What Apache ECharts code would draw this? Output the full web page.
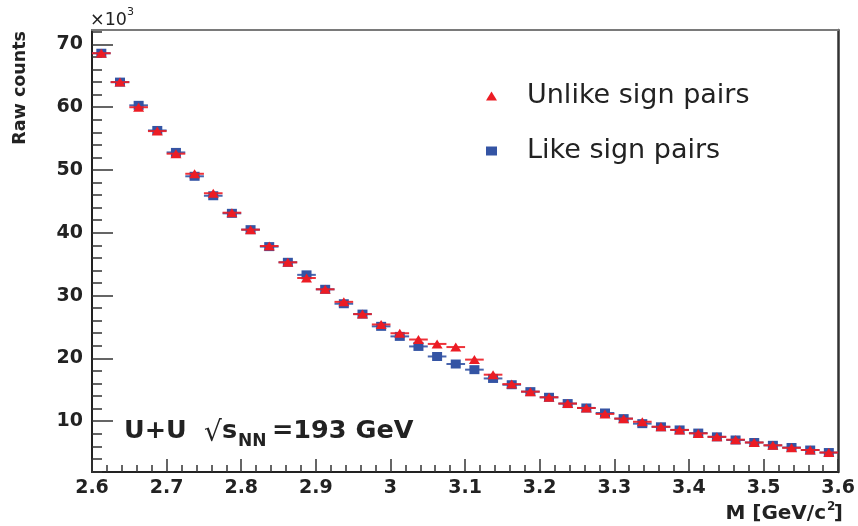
<!DOCTYPE html>
<html>
<head>
<meta charset="utf-8">
<title>Raw counts vs M</title>
<script src="https://cdn.jsdelivr.net/npm/echarts@6/dist/echarts.min.js"></script>
<style>
  html, body { margin: 0; padding: 0; background: #ffffff; }
  #chart { width: 858px; height: 526px; }
</style>
</head>
<body>
<div id="chart"></div>
<script>
// Invariant-mass bin centres [GeV/c^2], bin width 0.025
const massBins = [
  2.6125, 2.6375, 2.6625, 2.6875, 2.7125, 2.7375, 2.7625, 2.7875, 2.8125, 2.8375,
  2.8625, 2.8875, 2.9125, 2.9375, 2.9625, 2.9875, 3.0125, 3.0375, 3.0625, 3.0875,
  3.1125, 3.1375, 3.1625, 3.1875, 3.2125, 3.2375, 3.2625, 3.2875, 3.3125, 3.3375,
  3.3625, 3.3875, 3.4125, 3.4375, 3.4625, 3.4875, 3.5125, 3.5375, 3.5625, 3.5875
];
const binHalfWidth = 0.0125;

// Raw pair counts, in units of 10^3
const unlikeSign = [
  68.6, 64.0, 60.0, 56.2, 52.6, 49.4, 46.3, 43.2, 40.5, 37.9,
  35.3, 32.8, 31.0, 29.0, 27.05, 25.4, 24.0, 23.0, 22.3, 21.8,
  19.8, 17.4, 15.9, 14.7, 13.8, 12.8, 12.1, 11.15, 10.4, 9.9,
  9.1, 8.6, 8.05, 7.5, 7.05, 6.6, 6.15, 5.75, 5.4, 5.0
];
const likeSign = [
  68.6, 64.0, 60.3, 56.3, 52.8, 49.0, 45.9, 43.1, 40.5, 37.8,
  35.3, 33.3, 31.0, 28.7, 27.05, 25.1, 23.5, 21.9, 20.3, 19.1,
  18.2, 16.8, 15.8, 14.7, 13.8, 12.8, 12.1, 11.3, 10.4, 9.6,
  9.1, 8.6, 8.1, 7.5, 7.0, 6.6, 6.15, 5.8, 5.4, 5.0
];

// Axis ticks and labels
const yMajorTicks = [10, 20, 30, 40, 50, 60, 70];
const yMinorTicks = [2, 4, 6, 8, 12, 14, 16, 18, 22, 24, 26, 28, 32, 34, 36, 38,
                     42, 44, 46, 48, 52, 54, 56, 58, 62, 64, 66, 68, 72];
const yRange = [1.9, 72.3];
const xRange = [2.6, 3.6];

const RED = '#ec1c24';
const BLUE = '#3454a4';
const INK = '#222222';
const FONT = 'DejaVu Sans';

function points(values) {
  return massBins.map((m, i) => [m, values[i]]);
}

// horizontal bar spanning the full width of each mass bin
function binBars(color) {
  return function (params, api) {
    const x = api.value(0);
    const y = api.value(1);
    const p1 = api.coord([x - binHalfWidth, y]);
    const p2 = api.coord([x + binHalfWidth, y]);
    return {
      type: 'line',
      shape: { x1: p1[0], y1: p1[1], x2: p2[0], y2: p2[1] },
      style: { stroke: color, lineWidth: 2, opacity: 0.9 }
    };
  };
}

const chart = echarts.init(document.getElementById('chart'), null, { renderer: 'canvas' });

chart.setOption({
  animation: false,
  backgroundColor: '#ffffff',
  grid: { left: 92, right: 15, top: 30, bottom: 54, containLabel: false },
  xAxis: [
    {
      type: 'value', min: xRange[0], max: xRange[1], interval: 0.1,
      axisLine: { show: true, onZero: false, lineStyle: { color: INK, width: 2 } },
      axisTick: { show: true, inside: true, length: 13, lineStyle: { color: '#333', width: 1.5 } },
      minorTick: { show: true, splitNumber: 5, length: 7, lineStyle: { color: '#333', width: 1.5 } },
      axisLabel: { margin: 7, color: INK, fontFamily: FONT, fontWeight: 'bold', fontSize: 19 },
      splitLine: { show: false }, minorSplitLine: { show: false }
    },
    {
      type: 'value', position: 'top', min: xRange[0], max: xRange[1],
      axisLine: { show: true, onZero: false, lineStyle: { color: '#7a7a7a', width: 2 } },
      axisTick: { show: false }, axisLabel: { show: false }, splitLine: { show: false }
    }
  ],
  yAxis: [
    {
      type: 'value', min: yRange[0], max: yRange[1],
      axisLine: { show: true, onZero: false, lineStyle: { color: INK, width: 2 } },
      axisTick: { show: true, inside: true, length: 21, customValues: yMajorTicks,
                  lineStyle: { color: '#333', width: 1.5 } },
      axisLabel: { customValues: yMajorTicks, margin: 9, color: INK, fontFamily: FONT,
                   fontWeight: 'bold', fontSize: 19 },
      splitLine: { show: false }
    },
    {
      type: 'value', position: 'left', min: yRange[0], max: yRange[1],
      axisLine: { show: false },
      axisTick: { show: true, inside: true, length: 10, customValues: yMinorTicks,
                  lineStyle: { color: '#333', width: 1.5 } },
      axisLabel: { show: false }, splitLine: { show: false }
    },
    {
      type: 'value', position: 'right', min: yRange[0], max: yRange[1],
      axisLine: { show: true, onZero: false, lineStyle: { color: '#333', width: 2.5 } },
      axisTick: { show: false }, axisLabel: { show: false }, splitLine: { show: false }
    }
  ],
  legend: {
    orient: 'vertical', left: 481, top: 76, itemGap: 25,
    itemWidth: 11, itemHeight: 9,
    selectedMode: false,
    data: [
      { name: 'Unlike sign pairs', icon: 'triangle' },
      { name: 'Like sign pairs', icon: 'rect' }
    ],
    textStyle: { color: INK, fontFamily: FONT, fontSize: 27, lineHeight: 30, padding: [0, 0, 0, 25] }
  },
  series: [
    {
      name: 'Like sign pairs (bin width)', type: 'custom', z: 2,
      xAxisIndex: 0, yAxisIndex: 0,
      renderItem: binBars(BLUE), data: points(likeSign), silent: true
    },
    {
      name: 'Like sign pairs', type: 'scatter', z: 3,
      xAxisIndex: 0, yAxisIndex: 0,
      symbol: 'rect', symbolSize: [10, 9],
      itemStyle: { color: BLUE, opacity: 1 },
      data: points(likeSign)
    },
    {
      name: 'Unlike sign pairs (bin width)', type: 'custom', z: 4,
      xAxisIndex: 0, yAxisIndex: 0,
      renderItem: binBars(RED), data: points(unlikeSign), silent: true
    },
    {
      name: 'Unlike sign pairs', type: 'scatter', z: 5,
      xAxisIndex: 0, yAxisIndex: 0,
      symbol: 'triangle', symbolSize: [11, 9],
      itemStyle: { color: RED, opacity: 1 },
      data: points(unlikeSign)
    }
  ],
  graphic: [
    // exponent of the y-axis scale
    { type: 'text', left: 90, top: 11, style: { text: '×10', fill: INK, font: '17.5px "DejaVu Sans"' } },
    { type: 'text', left: 127, top: 7, style: { text: '3', fill: INK, font: '11px "DejaVu Sans"' } },
    // y-axis title, reading bottom to top, end aligned with the top of the frame
    {
      type: 'text', x: 20, y: 31, rotation: Math.PI / 2,
      style: { text: 'Raw counts', fill: INK, font: 'bold 17.5px "DejaVu Sans"',
               textAlign: 'right', textVerticalAlign: 'middle' }
    },
    // x-axis title
    { type: 'text', x: 826, y: 514, style: { text: 'M [GeV/c', fill: INK, font: 'bold 20px "DejaVu Sans"', textAlign: 'right', textVerticalAlign: 'middle' } },
    { type: 'text', x: 827, y: 507, style: { text: '2', fill: INK, font: 'bold 12px "DejaVu Sans"', textAlign: 'left', textVerticalAlign: 'middle' } },
    { type: 'text', x: 843, y: 514, style: { text: ']', fill: INK, font: 'bold 20px "DejaVu Sans"', textAlign: 'right', textVerticalAlign: 'middle' } },
    // collision system label
    { type: 'text', x: 124, y: 431, style: { text: 'U+U', fill: INK, font: 'bold 25.5px "DejaVu Sans"', textVerticalAlign: 'middle' } },
    { type: 'text', x: 204, y: 434, style: { text: '√', fill: INK, font: '28px "DejaVu Sans"', textVerticalAlign: 'middle' } },
    { type: 'text', x: 222, y: 431, style: { text: 's', fill: INK, font: 'bold 25.5px "DejaVu Sans"', textVerticalAlign: 'middle' } },
    { type: 'text', x: 238, y: 442, style: { text: 'NN', fill: INK, font: 'bold 17px "DejaVu Sans"', textVerticalAlign: 'middle' } },
    { type: 'text', x: 272, y: 431, style: { text: '=193 GeV', fill: INK, font: 'bold 25.5px "DejaVu Sans"', textVerticalAlign: 'middle' } }
  ]
});
</script>
</body>
</html>
